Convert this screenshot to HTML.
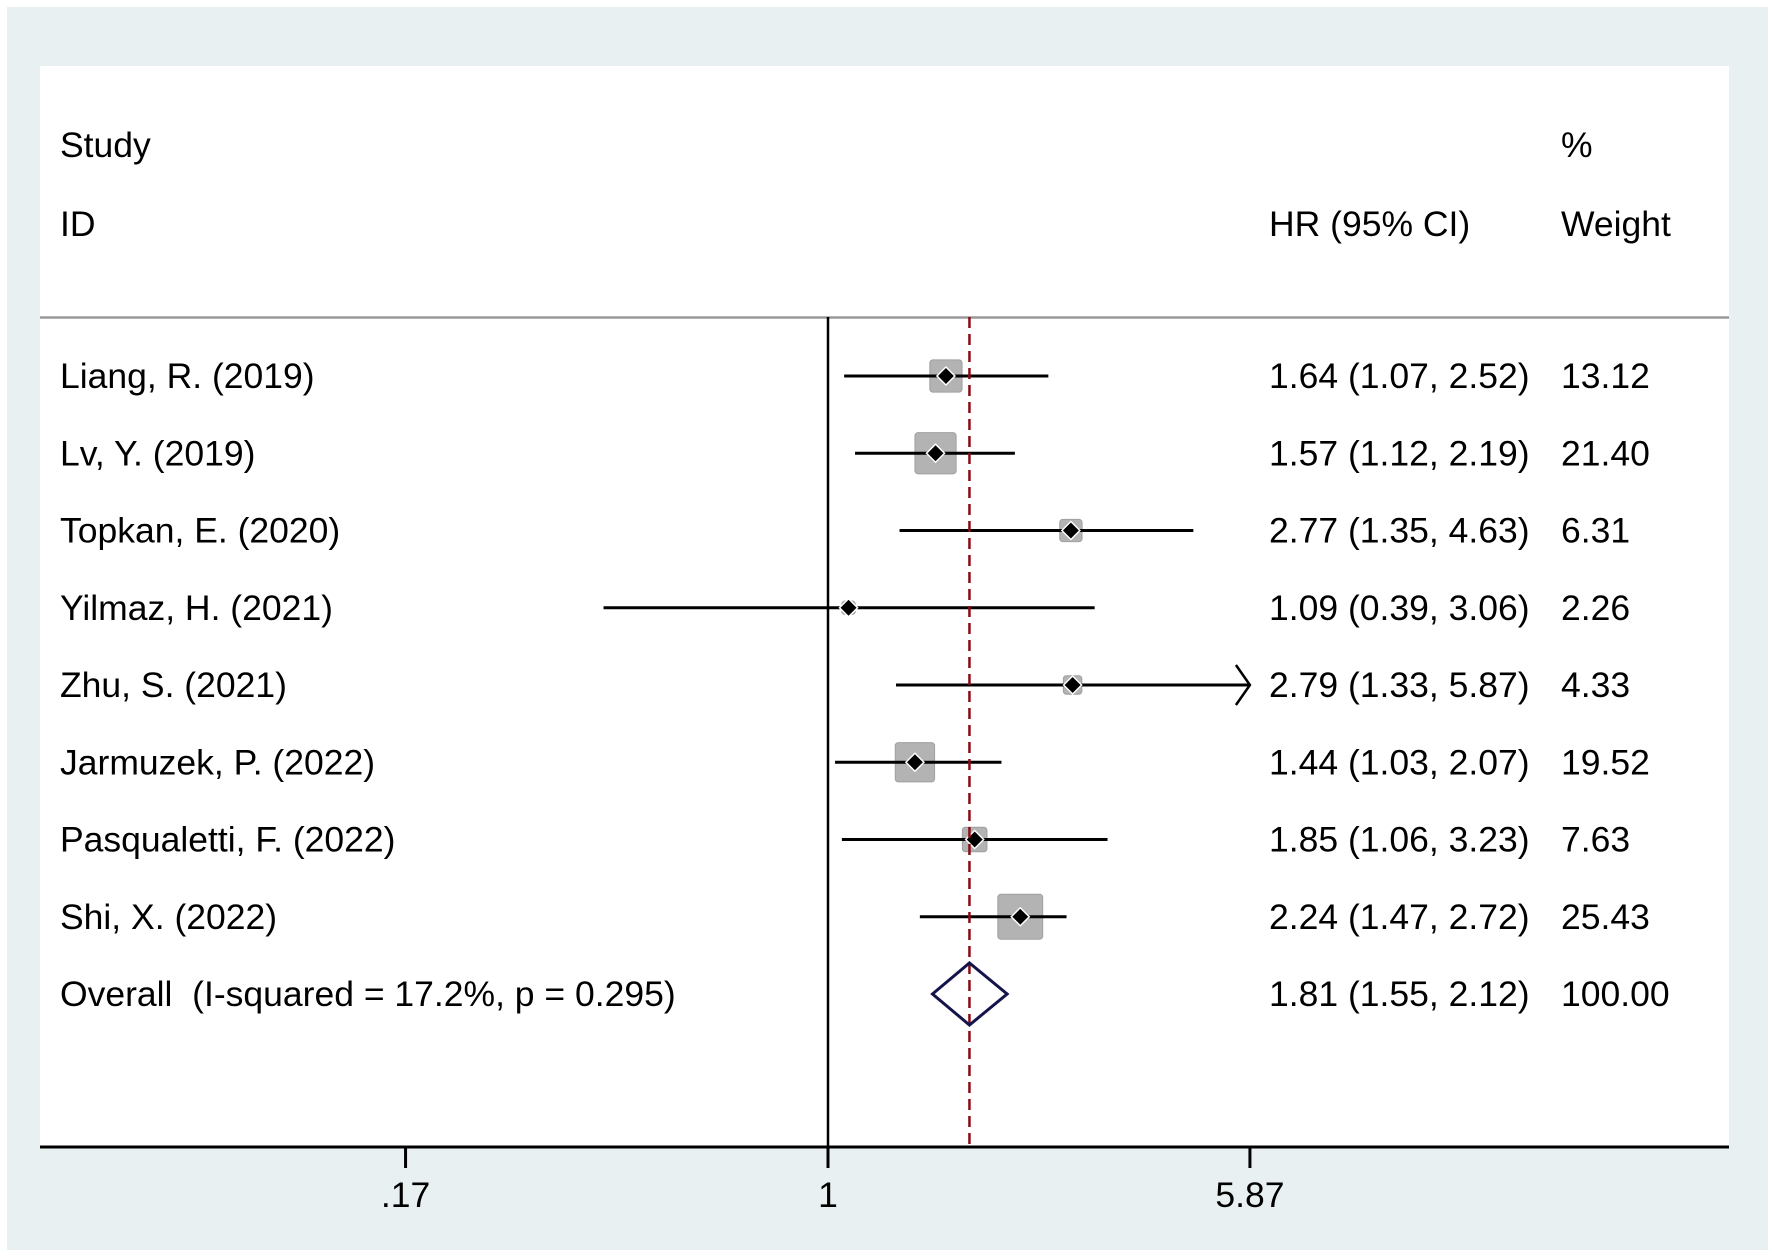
<!DOCTYPE html>
<html><head><meta charset="utf-8">
<style>
html,body{margin:0;padding:0;background:#fff;}
svg{display:block;}
text{font-family:"Liberation Sans",Arial,sans-serif;font-size:35.5px;fill:#000;white-space:pre;}
</style></head>
<body>
<svg id="chart" width="1772" height="1258" viewBox="0 0 1772 1258">
  <rect x="7" y="7" width="1761" height="1243" fill="#e9f0f1"/>
  <rect x="40" y="66" width="1689" height="1081" fill="#ffffff"/>
  <text x="60" y="157">Study</text>
  <text x="60" y="236">ID</text>
  <text x="1269" y="236">HR (95% CI)</text>
  <text x="1561" y="157">%</text>
  <text x="1561" y="236">Weight</text>
  <line x1="40" y1="317.5" x2="1729" y2="317.5" stroke="#999" stroke-width="2.5"/>
  <g id="marks"></g>
</svg>
<script>
const studies = ["Liang, R. (2019)","Lv, Y. (2019)","Topkan, E. (2020)","Yilmaz, H. (2021)","Zhu, S. (2021)","Jarmuzek, P. (2022)","Pasqualetti, F. (2022)","Shi, X. (2022)"];
const hr = [1.64,1.57,2.77,1.09,2.79,1.44,1.85,2.24];
const lower = [1.07,1.12,1.35,0.39,1.33,1.03,1.06,1.47];
const upper = [2.52,2.19,4.63,3.06,5.87,2.07,3.23,2.72];
const weights = [13.12,21.40,6.31,2.26,4.33,19.52,7.63,25.43];
const overall = [1.81,1.55,2.12];
const overallLabel = "Overall  (I-squared = 17.2%, p = 0.295)";
const tickValues = [0.17,1,5.87];
const tickLabels = [".17","1","5.87"];

const NS="http://www.w3.org/2000/svg";
const g=document.getElementById('marks');
const xScale=v=>828+238.4*Math.log(v);
const xMax=xScale(5.87);
const rowY=i=>376+77.25*i;
function el(tag,attrs){const e=document.createElementNS(NS,tag);for(const k in attrs)e.setAttribute(k,attrs[k]);g.appendChild(e);return e;}
const f2=v=>v.toFixed(2);
const axisY=1147;

let nl=el('line',{x1:828,y1:317,x2:828,y2:axisY,stroke:'#000','stroke-width':2.5});



studies.forEach((s,i)=>{
  const y=rowY(i);
  const side=8.9*Math.sqrt(weights[i]);
  const cx=xScale(hr[i]);
  const b=el('rect',{x:cx-side/2,y:y-side/2,width:side,height:side,rx:3,fill:'#b3b3b3',stroke:'#a0a0a0','stroke-width':1});
  
  
  const hi=Math.min(xScale(upper[i]),xMax);
  const l=el('line',{x1:xScale(lower[i]),y1:y,x2:hi,y2:y,stroke:'#000','stroke-width':3});
  
  
  if(upper[i]>=5.87){
    const a=el('polyline',{points:`${hi-14},${y-20} ${hi},${y} ${hi-14},${y+20}`,fill:'none',stroke:'#000','stroke-width':2.5});
    
    
  }
  const d=el('polygon',{points:`${cx},${y-9} ${cx+9},${y} ${cx},${y+9} ${cx-9},${y}`,fill:'#000',stroke:'#fff','stroke-width':1.5});
  
  
  const t1=el('text',{x:60,y:y+12});t1.textContent=s;
  
  
  const t2=el('text',{x:1269,y:y+12});t2.textContent=`${f2(hr[i])} (${f2(lower[i])}, ${f2(upper[i])})`;
  
  
  const t3=el('text',{x:1561,y:y+12});t3.textContent=f2(weights[i]);
  
  
});

const oy=rowY(8);
const dl=el('line',{x1:xScale(overall[0]),y1:317,x2:xScale(overall[0]),y2:axisY,stroke:'#8b0a14','stroke-width':2.5,'stroke-dasharray':'11,6'});


const ox=xScale(overall[0]);
const dm=el('polygon',{points:`${xScale(overall[1])},${oy} ${ox},${oy-31} ${xScale(overall[2])},${oy} ${ox},${oy+31}`,fill:'none',stroke:'#14144a','stroke-width':3});


const ot=el('text',{x:60,y:oy+12});ot.textContent=overallLabel;


const oh=el('text',{x:1269,y:oy+12});oh.textContent=`${f2(overall[0])} (${f2(overall[1])}, ${f2(overall[2])})`;


const ow=el('text',{x:1561,y:oy+12});ow.textContent="100.00";



const ax=el('line',{x1:40,y1:axisY,x2:1729,y2:axisY,stroke:'#000','stroke-width':3});


tickValues.forEach((v,i)=>{
  const x=xScale(v);
  const t=el('line',{x1:x,y1:axisY,x2:x,y2:1168,stroke:'#000','stroke-width':3});
  
  
  const lb=el('text',{x:x,y:1207,'text-anchor':'middle'});lb.textContent=tickLabels[i];
  
  
});
</script>
</body></html>
